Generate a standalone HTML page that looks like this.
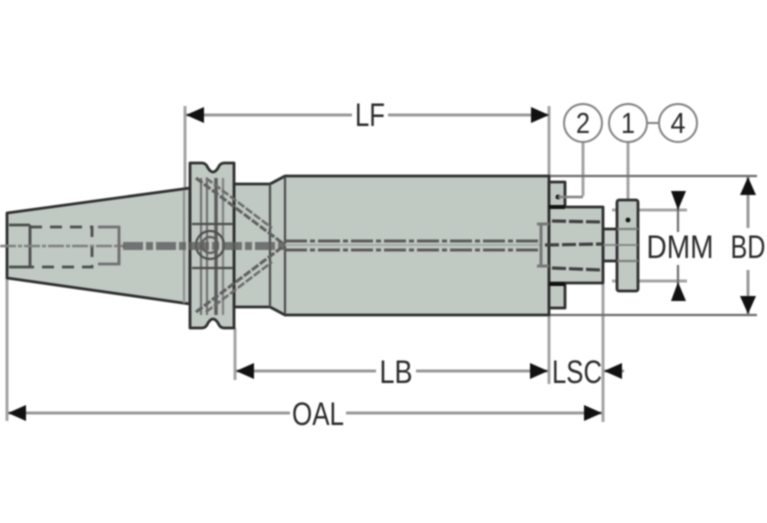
<!DOCTYPE html>
<html>
<head>
<meta charset="utf-8">
<style>
html,body{margin:0;padding:0;background:#fff;width:767px;height:523px;overflow:hidden}
svg{display:block;filter:blur(.8px)}
text{font-family:"Liberation Sans",sans-serif;fill:#2a2a2a;text-anchor:middle}
</style>
</head>
<body>
<svg width="767" height="523" viewBox="0 0 767 523" xmlns="http://www.w3.org/2000/svg">
<defs>
<marker id="a" markerUnits="userSpaceOnUse" markerWidth="20" markerHeight="16" refX="18" refY="8" orient="auto-start-reverse"><path d="M0 0L18 8L0 16Z" fill="#111"/></marker>
</defs>
<rect width="767" height="523" fill="#fff"/>

<!-- extension lines -->
<g stroke="#a4a4a4" stroke-width="3" fill="none">
<line x1="7" y1="278" x2="7" y2="421"/>
<line x1="185" y1="106" x2="185" y2="190"/>
<line x1="549" y1="106" x2="549" y2="178"/>
<line x1="549" y1="315" x2="549" y2="384"/>
<line x1="235" y1="328" x2="235" y2="380"/>
<line x1="603" y1="284" x2="603" y2="422"/>
<line x1="583" y1="138" x2="583" y2="196"/>
<line x1="628" y1="140" x2="628" y2="200"/>
</g>
<g stroke="#6c6c6c" stroke-width="2.2" fill="none">
<line x1="549" y1="176" x2="757" y2="176"/>
<line x1="549" y1="315" x2="757" y2="315"/>
</g>
<g stroke="#a4a4a4" stroke-width="3" fill="none">
<line x1="612" y1="210" x2="687" y2="210"/>
<line x1="612" y1="281" x2="687" y2="281"/>
</g>

<!-- body shapes -->
<g fill="#c1c9c3" stroke="#2e2e2e" stroke-width="2.8" stroke-linejoin="round">
<path d="M7 213L190 188V304L7 278Z"/>
<path d="M234 184H270L285 176H549V315H285L270 307H234Z"/>
<path d="M190 163H202Q206 163 208 168Q213 176 218 168Q220 163 224 163H234V328H224Q220 328 218 323Q213 315 208 323Q206 328 202 328H190Z"/>
<rect x="549" y="182" width="16" height="25"/>
<rect x="549" y="284" width="16" height="24"/>
<rect x="603" y="229" width="16" height="32" fill="#cdd3cf"/>
<rect x="549" y="207" width="54" height="76"/>
<rect x="617" y="200" width="21" height="91" rx="2"/>
</g>

<!-- inner details flange -->
<g fill="none" stroke="#4c4c4c" stroke-width="2.2">
<line x1="270" y1="184" x2="270" y2="307"/>
<line x1="285" y1="177" x2="285" y2="314"/>
<line x1="201" y1="178" x2="201" y2="315" stroke="#707070"/>
<line x1="207" y1="178" x2="207" y2="315" stroke="#707070"/>
<line x1="216" y1="178" x2="216" y2="315" stroke="#5c5c5c" stroke-width="3.5"/>
<line x1="223" y1="178" x2="223" y2="315" stroke="#808080"/>
<line x1="192" y1="224" x2="233" y2="224"/>
<line x1="192" y1="268" x2="233" y2="268"/>
<line x1="184" y1="190" x2="184" y2="303" stroke="#909090"/>
<circle cx="210" cy="245" r="14"/>
<circle cx="210" cy="245" r="8" stroke="#5c5c5c"/>
<line x1="617" y1="229" x2="638" y2="229" stroke="#808080"/>
<line x1="617" y1="261" x2="638" y2="261" stroke="#808080"/>
<line x1="196" y1="178" x2="285" y2="245" stroke-dasharray="8 2" stroke-width="3" stroke="#5e5e5e"/>
<line x1="206" y1="178" x2="272" y2="228" stroke-dasharray="8 2" stroke-width="2.5" stroke="#6a6a6a"/>
<line x1="196" y1="312" x2="285" y2="245" stroke-dasharray="8 2" stroke-width="3" stroke="#5e5e5e"/>
<line x1="206" y1="312" x2="272" y2="262" stroke-dasharray="8 2" stroke-width="2.5" stroke="#6a6a6a"/>
</g>

<!-- hidden lines left -->
<g fill="none" stroke="#4c4c4c" stroke-width="2.8">
<line x1="9" y1="225" x2="30" y2="225"/>
<line x1="9" y1="267" x2="30" y2="267"/>
<path d="M30 225V267"/>
<path d="M30 227H92V267H30" stroke-dasharray="12 8"/>
<path d="M98 227H119V264H98" stroke="#707070"/>
<path d="M119 240V264" stroke="#707070"/>
</g>

<!-- centre line -->
<line x1="0" y1="246" x2="125" y2="246" stroke="#808080" stroke-width="2.4" stroke-dasharray="16 2 4 2"/>
<line x1="123" y1="246" x2="285" y2="246" stroke="#5e5e5e" stroke-width="8" stroke-dasharray="20 3 7 3" opacity=".8"/>
<line x1="285" y1="241" x2="540" y2="241" stroke="#5c5c5c" stroke-width="3" stroke-dasharray="22 3 5 3"/>
<line x1="285" y1="250" x2="540" y2="250" stroke="#5c5c5c" stroke-width="3" stroke-dasharray="22 3 5 3"/>
<line x1="285" y1="245" x2="540" y2="245" stroke="#a5aca7" stroke-width="2"/>

<!-- cartridge hidden lines -->
<g fill="none" stroke="#3f3f3f" stroke-width="3.2" stroke-dasharray="14 3">
<line x1="552" y1="221" x2="602" y2="222"/>
<line x1="545" y1="245" x2="602" y2="244"/>
<line x1="552" y1="268" x2="602" y2="270"/>
</g>
<path d="M537 224H549M537 266H549M541 224V266" stroke="#777" stroke-width="3" fill="none"/>
<line x1="603" y1="245" x2="638" y2="245" stroke="#808080" stroke-width="1.8"/>

<circle cx="558" cy="197" r="2.4" fill="#111"/>
<circle cx="628" cy="220" r="2.4" fill="#111"/>
<path d="M558 197H583" stroke="#808080" stroke-width="2.4" fill="none"/>
<path d="M549 207H565M549 284H565" stroke="#111" stroke-width="4"/>

<!-- dimensions -->
<g stroke="#999" stroke-width="3" fill="none">
<line x1="186" y1="115" x2="352" y2="115" marker-start="url(#a)"/>
<line x1="388" y1="115" x2="549" y2="115" marker-end="url(#a)"/>
<line x1="236" y1="371" x2="376" y2="371" marker-start="url(#a)"/>
<line x1="416" y1="371" x2="548" y2="371" marker-end="url(#a)"/>
<line x1="8" y1="413" x2="290" y2="413" marker-start="url(#a)"/>
<line x1="346" y1="413" x2="602" y2="413" marker-end="url(#a)"/>
<line x1="624" y1="371" x2="604" y2="371" marker-end="url(#a)"/>
<line x1="748" y1="177" x2="748" y2="228" marker-start="url(#a)"/>
<line x1="748" y1="270" x2="748" y2="314" marker-end="url(#a)"/>
</g>
<g stroke="#6c6c6c" stroke-width="2.2" fill="none">
<line x1="678" y1="192" x2="678" y2="232"/>
<line x1="678" y1="265" x2="678" y2="300"/>
</g>
<path d="M671 191H686L678 210Z M671 301H686L678 282Z" fill="#111"/>

<!-- balloons -->
<g fill="#fff" stroke="#808080" stroke-width="2">
<line x1="646" y1="123" x2="660" y2="123"/>
<circle cx="583" cy="123" r="19"/>
<circle cx="628" cy="123" r="19"/>
<circle cx="678" cy="123" r="19"/>
</g>
<text x="583" y="133" font-size="29" textLength="14" lengthAdjust="spacingAndGlyphs">2</text>
<text x="628" y="133" font-size="29" textLength="14" lengthAdjust="spacingAndGlyphs">1</text>
<text x="678" y="133" font-size="29" textLength="15" lengthAdjust="spacingAndGlyphs">4</text>

<!-- labels -->
<text x="370" y="126" font-size="32" textLength="30" lengthAdjust="spacingAndGlyphs">LF</text>
<text x="396" y="383" font-size="32" textLength="33" lengthAdjust="spacingAndGlyphs">LB</text>
<text x="577" y="383" font-size="32" textLength="50" lengthAdjust="spacingAndGlyphs">LSC</text>
<text x="318" y="425" font-size="32" textLength="52" lengthAdjust="spacingAndGlyphs">OAL</text>
<text x="680" y="258" font-size="32" textLength="67" lengthAdjust="spacingAndGlyphs">DMM</text>
<text x="748" y="258" font-size="32" textLength="35" lengthAdjust="spacingAndGlyphs">BD</text>
</svg>
</body>
</html>
